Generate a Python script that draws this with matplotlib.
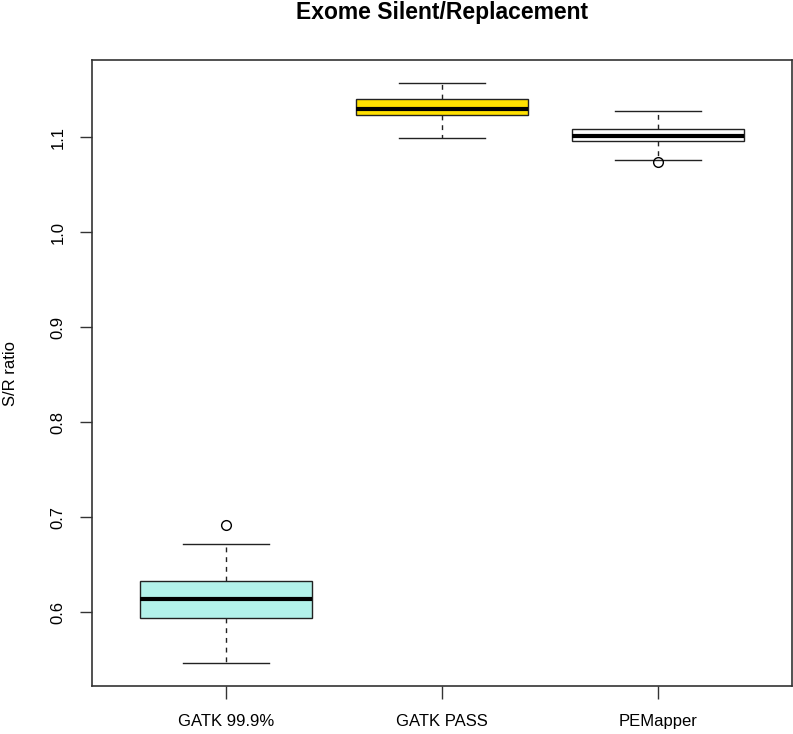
import matplotlib
matplotlib.use("Agg")
import matplotlib.pyplot as plt

plt.rcParams['font.family'] = ['Liberation Sans', 'DejaVu Sans']

categories = ["GATK 99.9%", "GATK PASS", "PEMapper"]
whislo = [0.547, 1.099, 1.0765]
q1 = [0.5945, 1.1235, 1.0955]
med = [0.6137, 1.130, 1.1014]
q3 = [0.6330, 1.140, 1.1087]
whishi = [0.6716, 1.157, 1.1278]
outliers = [[0.6916], [], [1.074]]
box_colors = ["#b3f2ea", "#ffe000", "#ffffff"]
yticks = [0.6, 0.7, 0.8, 0.9, 1.0, 1.1]

W, H = 793, 734
fig = plt.figure(figsize=(W / 100, H / 100), dpi=100)
ax = fig.add_axes([92 / W, 1 - 686 / H, (792 - 92) / W, (686 - 60) / H])

stats = []
for i, c in enumerate(categories):
    stats.append(dict(label=c, whislo=whislo[i], q1=q1[i], med=med[i],
                      q3=q3[i], whishi=whishi[i], fliers=outliers[i]))

lw = 1.0
bp = ax.bxp(stats, positions=[1, 2, 3], widths=0.8, patch_artist=True,
            boxprops=dict(linewidth=lw, edgecolor="#222222"),
            medianprops=dict(color="black", linewidth=3.0, solid_capstyle="butt"),
            whiskerprops=dict(color="#222222", linewidth=lw, linestyle=(0, (3.5, 3.5))),
            capprops=dict(color="#222222", linewidth=lw),
            flierprops=dict(marker="o", markerfacecolor="none", markeredgecolor="black",
                            markersize=7, markeredgewidth=1.0),
            capwidths=0.4)
for patch, col in zip(bp['boxes'], box_colors):
    patch.set_facecolor(col)

ax.set_xlim(0.38, 3.62)
ax.set_ylim(0.5226, 1.1812)
ax.set_yticks(yticks)
ax.set_yticklabels([f"{v:.1f}" for v in yticks], rotation=90, va="center", fontsize=12)
ax.set_xticks([1, 2, 3])
ax.set_xticklabels(categories, fontsize=12)
ax.tick_params(axis="both", length=9, width=1.0, color="#333333")
ax.tick_params(axis="y", pad=10)
ax.tick_params(axis="x", pad=11)
for s in ax.spines.values():
    s.set_linewidth(1.2)
    s.set_color("#333333")

ax.set_ylabel("S/R ratio", fontsize=12)
ax.yaxis.set_label_coords(-(92 - 18) / 700, 0.5)
fig.text(442 / W, 1 - 13 / H, "Exome Silent/Replacement", ha="center", va="center",
         fontsize=16.5, fontweight="bold")

fig.savefig("out.png", dpi=100)
